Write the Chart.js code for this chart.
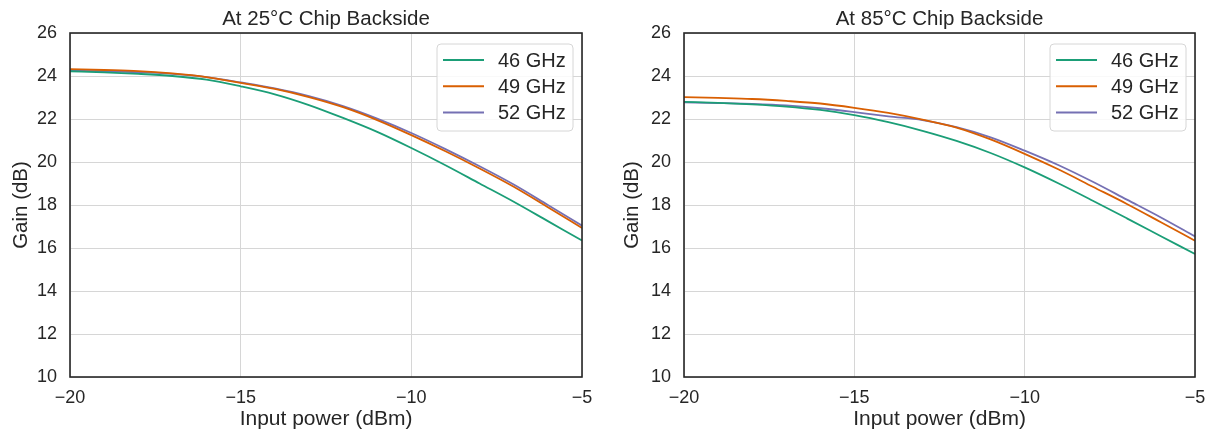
<!DOCTYPE html>
<html lang="en">
<head>
  <meta charset="UTF-8">
  <title>Gain vs Input Power</title>
  <script src="https://cdn.jsdelivr.net/npm/chart.js"></script>
  <style>
    body { margin: 0; background: #fff; }
    .wrap { position: absolute; top: 0; height: 432px; }
  </style>
</head>
<body>
  <div class="wrap" style="left:0;width:604px"><canvas id="chart25" width="604" height="432"></canvas></div>
  <div class="wrap" style="left:604px;width:605px"><canvas id="chart85" width="605" height="432"></canvas></div>
  <script>
    // input power (dBm)
    var inputPower = [-20, -19, -18, -17, -16, -15, -14, -13, -12, -11, -10, -9, -8, -7, -6, -5];
    var seriesNames = ['46 GHz', '49 GHz', '52 GHz'];
    var seriesColors = ['#1b9e77', '#d95f02', '#7570b3'];
    var xTicks = [-20, -15, -10, -5];

    // gain (dB) at 25C chip backside
    var gain25_46 = [24.22, 24.17, 24.10, 24.00, 23.83, 23.52, 23.15, 22.65, 22.05, 21.40, 20.65, 19.85, 19.00, 18.15, 17.25, 16.35];
    var gain25_49 = [24.32, 24.28, 24.23, 24.12, 23.95, 23.68, 23.40, 23.02, 22.55, 21.95, 21.25, 20.50, 19.70, 18.85, 17.90, 16.93];
    var gain25_52 = [24.24, 24.22, 24.18, 24.10, 23.95, 23.70, 23.42, 23.06, 22.60, 22.02, 21.35, 20.60, 19.80, 18.95, 18.00, 17.04];

    // gain (dB) at 85C chip backside
    var gain85_46 = [22.80, 22.75, 22.68, 22.58, 22.42, 22.18, 21.85, 21.45, 20.98, 20.42, 19.75, 19.00, 18.20, 17.38, 16.55, 15.72];
    var gain85_49 = [23.02, 22.98, 22.93, 22.84, 22.72, 22.52, 22.28, 21.97, 21.60, 21.05, 20.38, 19.65, 18.85, 18.05, 17.20, 16.34];
    var gain85_52 = [22.77, 22.74, 22.70, 22.63, 22.50, 22.32, 22.12, 21.95, 21.62, 21.15, 20.53, 19.85, 19.08, 18.25, 17.42, 16.54];

    var FONT = "'Liberation Sans', Arial, sans-serif";
    var TEXT = '#262626';

    function minusLabel(v) {
      return (v < 0 ? '\u2212' : '') + Math.abs(v);
    }

    // frame, title and legend drawn on top of the plot
    var decorPlugin = {
      id: 'decor',
      afterDraw: function (chart) {
        var ctx = chart.ctx;
        var a = chart.chartArea;
        ctx.save();
        ctx.strokeStyle = TEXT;
        ctx.lineWidth = 1.6;
        ctx.strokeRect(a.left, a.top, a.right - a.left, a.bottom - a.top);

        ctx.fillStyle = TEXT;
        ctx.font = '20.5px ' + FONT;
        ctx.textAlign = 'center';
        ctx.textBaseline = 'middle';
        ctx.fillText(chart.options.plugins.decor.title, (a.left + a.right) / 2, 19);

        // legend box
        var bx = a.right - 145, by = a.top + 11, bw = 136, bh = 87;
        ctx.fillStyle = 'rgba(255,255,255,0.85)';
        ctx.strokeStyle = '#d6d6d6';
        ctx.lineWidth = 1;
        ctx.beginPath();
        ctx.roundRect(bx, by, bw, bh, 4);
        ctx.fill();
        ctx.stroke();
        ctx.textAlign = 'left';
        chart.data.datasets.forEach(function (ds, i) {
          var ly = by + 16 + i * 26.2;
          ctx.strokeStyle = ds.borderColor;
          ctx.lineWidth = 2;
          ctx.beginPath();
          ctx.moveTo(bx + 6, ly);
          ctx.lineTo(bx + 47, ly);
          ctx.stroke();
          ctx.fillStyle = TEXT;
          ctx.font = '20px ' + FONT;
          ctx.fillText(ds.label, bx + 61, ly + 1);
        });
        ctx.restore();
      }
    };

    function makeChart(id, title, g46, g49, g52, yWidth, padRight, yTitlePad) {
      var gains = [g46, g49, g52];
      var datasets = gains.map(function (g, i) {
        return {
          label: seriesNames[i],
          data: inputPower.map(function (p, j) { return { x: p, y: g[j] }; }),
          borderColor: seriesColors[i],
          borderWidth: 1.8,
          pointRadius: 0,
          cubicInterpolationMode: 'monotone',
          fill: false
        };
      });
      return new Chart(document.getElementById(id), {
        type: 'line',
        data: { datasets: datasets },
        plugins: [decorPlugin],
        options: {
          responsive: false,
          animation: false,
          layout: { padding: { top: 33, right: padRight, left: 0, bottom: 0 } },
          plugins: {
            legend: { display: false },
            tooltip: { enabled: false },
            decor: { title: title }
          },
          scales: {
            x: {
              type: 'linear',
              min: -20, max: -5,
              afterBuildTicks: function (s) { s.ticks = xTicks.map(function (v) { return { value: v }; }); },
              afterFit: function (s) { s.height = 55; s.paddingRight = 0; s.paddingLeft = 0; },
              grid: { color: '#d6d6d6', lineWidth: 1, drawTicks: false },
              border: { display: false },
              ticks: {
                color: TEXT, padding: 10,
                font: { family: FONT, size: 18 },
                callback: minusLabel
              },
              title: {
                display: true, text: 'Input power (dBm)', color: TEXT,
                font: { family: FONT, size: 21 }, padding: { top: 0, bottom: 0 }
              }
            },
            y: {
              min: 10, max: 26,
              afterFit: function (s) { s.width = yWidth; s.paddingTop = 0; s.paddingBottom = 0; },
              grid: { color: '#d6d6d6', lineWidth: 1, drawTicks: false },
              border: { display: false },
              ticks: {
                color: TEXT, padding: 13, stepSize: 2,
                font: { family: FONT, size: 18 }
              },
              title: {
                display: true, text: 'Gain (dB)', color: TEXT,
                font: { family: FONT, size: 20.5 }, padding: { top: yTitlePad, bottom: 0 }
              }
            }
          }
        }
      });
    }

    makeChart('chart25', 'At 25\u00b0C Chip Backside', gain25_46, gain25_49, gain25_52, 70, 22, 9);
    makeChart('chart85', 'At 85\u00b0C Chip Backside', gain85_46, gain85_49, gain85_52, 80, 14, 16);
  </script>
</body>
</html>
